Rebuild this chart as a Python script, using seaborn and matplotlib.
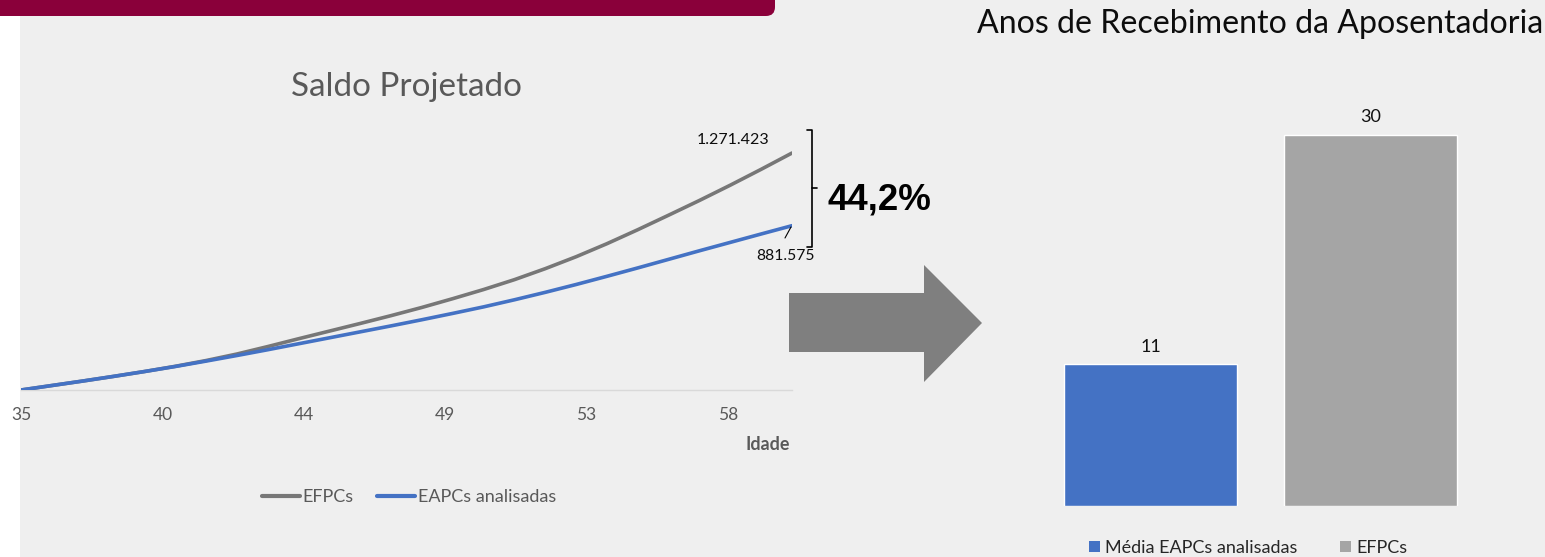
import numpy as np
import pandas as pd
import matplotlib
matplotlib.use("Agg")
import matplotlib.pyplot as plt
import seaborn as sns
from matplotlib.patches import Polygon, Rectangle, FancyBboxPatch, Patch
from matplotlib.lines import Line2D
from matplotlib.transforms import IdentityTransform

# ---------------- data ----------------
idades = list(range(35, 61))
saldo_efpc = [0, 24000, 48000, 73000, 99000, 127000, 158000, 193000, 233000, 275000,
              316000, 357000, 399000, 443000, 490000, 539000, 592000, 651000, 715000,
              785000, 860000, 938000, 1017000, 1099000, 1184000, 1271423]
saldo_eapc = [0, 24000, 48000, 73000, 99000, 126000, 155000, 185000, 216000, 248000,
              280000, 312000, 344000, 377000, 411000, 446000, 484000, 524000, 566000,
              610000, 655000, 701000, 747000, 792000, 837000, 881575]
series_names = ["EFPCs", "EAPCs analisadas"]
tick_pos = [35, 35 + 55 / 12, 35 + 110 / 12, 35 + 165 / 12, 35 + 220 / 12, 35 + 275 / 12]
tick_labels = ["35", "40", "44", "49", "53", "58"]
label_topo = "1.271.423"
label_base = "881.575"
diferenca = "44,2%"

bar_cats = ["Média EAPCs analisadas", "EFPCs"]
bar_vals = [11.45, 30]

title_left = "Saldo Projetado"
title_right = "Anos de Recebimento da Aposentadoria"
xlabel_left = "Idade"

# ---------------- style ----------------
W, H = 1545, 557
BG = "#efefef"
GRAY_LINE = "#777777"
BLUE = "#4472c4"
BAR_GRAY = "#a5a5a5"
TXT_GRAY = "#595959"

sns.set_theme(style="white")
plt.rcParams["font.family"] = ["Lato", "DejaVu Sans"]

fig = plt.figure(figsize=(W / 100, H / 100), dpi=100, facecolor=BG)


def fx(x):
    return x / W


def fy(y):
    return 1 - y / H


# decorations: white strip + red header bar
fig.patches.append(Rectangle((0, 0), fx(20), 1, transform=fig.transFigure,
                             facecolor="white", edgecolor="none", zorder=-2))
fig.patches.append(FancyBboxPatch((-20, H - 16), 795, 40,
                                  boxstyle="round,pad=0,rounding_size=9",
                                  transform=IdentityTransform(),
                                  facecolor="#8a003a", edgecolor="none", zorder=-1))

# ---------------- line chart ----------------
df_line = pd.DataFrame({
    "Idade": idades * 2,
    "Saldo": saldo_efpc + saldo_eapc,
    "Série": [series_names[0]] * len(idades) + [series_names[1]] * len(idades),
})
ax1 = fig.add_axes([fx(21), fy(390), (792 - 21) / W, 270 / H])
ax1.set_facecolor("none")
sns.lineplot(data=df_line, x="Idade", y="Saldo", hue="Série",
             palette={series_names[0]: GRAY_LINE, series_names[1]: BLUE},
             linewidth=2.6, legend=False, ax=ax1, zorder=3)
ax1.set_xlim(35, 60)
ax1.set_ylim(0, 270 * 5365)
for s in ["top", "right", "left"]:
    ax1.spines[s].set_visible(False)
ax1.spines["bottom"].set_color("#d9d9d9")
ax1.spines["bottom"].set_linewidth(1.0)
ax1.set_yticks([])
ax1.set_xticks(tick_pos)
ax1.set_xticklabels(tick_labels)
ax1.tick_params(axis="x", length=0, pad=12, labelsize=12.5, labelcolor=TXT_GRAY)
ax1.set_xlabel("")
ax1.set_ylabel("")

# ---------------- bar chart ----------------
df_bar = pd.DataFrame({"Série": bar_cats, "Anos": bar_vals})
ax2 = fig.add_axes([fx(1018.5), fy(506), 484 / W, 406 / H])
ax2.set_facecolor("none")
sns.barplot(data=df_bar, x="Série", y="Anos", hue="Série",
            palette={bar_cats[0]: BLUE, bar_cats[1]: BAR_GRAY},
            width=0.786, saturation=1, legend=False, ax=ax2)
ax2.set_xlim(-0.6, 1.6)
ax2.set_ylim(0, 406 / 12.37)
for s in ax2.spines.values():
    s.set_visible(False)
ax2.set_xticks([])
ax2.set_yticks([])
ax2.set_xlabel("")
ax2.set_ylabel("")
for cont in ax2.containers:
    ax2.bar_label(cont, fmt="%.0f", padding=7, fontsize=13, color="#111111")

# ---------------- texts ----------------
fig.canvas.draw()
renderer = fig.canvas.get_renderer()


def fit(t, width_px):
    bb = t.get_window_extent(renderer)
    t.set_fontsize(t.get_fontsize() * width_px / bb.width)


t = fig.text(fx(291), fy(96), title_left, ha="left", va="baseline",
             fontsize=24, color=TXT_GRAY)
fit(t, 231)
t = fig.text(fx(977), fy(33), title_right, ha="left", va="baseline",
             fontsize=22, color="#0d0d0d")
fit(t, 563)
t = fig.text(fx(697), fy(144), label_topo, ha="left", va="baseline",
             fontsize=12, color="#0d0d0d")
fit(t, 72)
t = fig.text(fx(756), fy(260), label_base, ha="left", va="baseline",
             fontsize=12, color="#0d0d0d")
fit(t, 58)
t = fig.text(fx(827), fy(209), diferenca, ha="left", va="baseline",
             fontsize=26, fontweight="bold", color="black",
             family=["Liberation Sans", "DejaVu Sans"])
fit(t, 104)
t = fig.text(fx(790), fy(450), xlabel_left, ha="right", va="baseline",
             fontsize=11, fontweight="bold", color=TXT_GRAY)
fit(t, 44)

# leader line and bracket
fig.lines.append(Line2D([fx(785), fx(791)], [fy(238), fy(227)],
                        transform=fig.transFigure, color="black", lw=0.8))
fig.lines.append(Line2D([fx(807), fx(812), fx(812), fx(807)],
                        [fy(130), fy(130), fy(247), fy(247)],
                        transform=fig.transFigure, color="black", lw=1.2))
fig.lines.append(Line2D([fx(812), fx(817)], [fy(188), fy(188)],
                        transform=fig.transFigure, color="black", lw=1.2))

# arrow shape
arrow_pts = [(789, 293), (924, 293), (924, 265), (982, 323), (924, 382),
             (924, 352), (789, 352)]
fig.patches.append(Polygon([(fx(x), fy(y)) for x, y in arrow_pts], closed=True,
                           transform=fig.transFigure, facecolor="#7f7f7f",
                           edgecolor="none"))

# legends
h_line = [Line2D([0], [0], color=GRAY_LINE, lw=3),
          Line2D([0], [0], color=BLUE, lw=3)]
leg1 = fig.legend(h_line, series_names, loc="center", bbox_to_anchor=(fx(409), fy(497)),
                  ncol=2, frameon=False, fontsize=13, handlelength=2.1,
                  handletextpad=0.15, columnspacing=1.3, labelcolor=TXT_GRAY,
                  borderpad=0, borderaxespad=0)
h_bar = [Patch(facecolor=BLUE, edgecolor="none"), Patch(facecolor=BAR_GRAY, edgecolor="none")]
leg2 = fig.legend(h_bar, bar_cats, loc="center", bbox_to_anchor=(fx(1248), fy(548)),
                  ncol=2, frameon=False, fontsize=13, handlelength=0.62,
                  handleheight=0.62, handletextpad=0.25, columnspacing=2.4,
                  labelcolor="#262626", borderpad=0, borderaxespad=0)

fig.savefig("out.png", dpi=100, facecolor=fig.get_facecolor())
